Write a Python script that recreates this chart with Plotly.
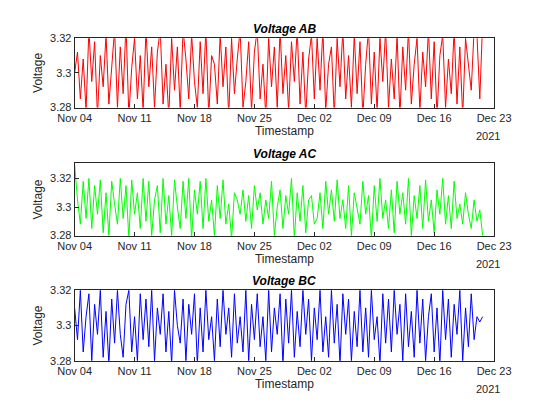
import pandas as pd
import plotly.graph_objects as go
from plotly.subplots import make_subplots

# Data: deviation from 3.300 V in mV, one reading every 8 hours.
ab_mv = [0, 12, -15, 8, -22, 25, -5, 18, -25, 10, -8, 22, -18, 5, 25, -20, 15, -12, 28, -25, 3, 20, -15, 10, -22, 25, -8, 15, -20, 12,
         25, -18, 5, -25, 20, -10, 15, -22, 25, 8, -15, 22, -5, -20, 18, -12, 25, -25, 10, 5, -18, 22, -8, 15, -25, 20, -12, 8, 25, -20,
         -5, 18, -22, 12, 25, -15, 5, -25, 20, -8, 15, -20, 25, -12, 10, -22, 18, -5, 25, -18, 12, -25, 8, 22, -15, 20, -10, 25, -22, 5,
         15, -25, 20, -8, 25, -15, 10, -20, 22, -12, 18, -25, 5, 25, -18, 12, -22, 20, -5, 25, -20, 8, -15, 22, -25, 15, -10, 25, -18, 5,
         20, -22, 12, -8, 25, -15, 18, -25, 10, 22, -20, 8, -12, 25, -18, 15, -25, 20, 5, -10, 25, 22, -15, 30]
ac_mv = [30, 5, -12, 18, -8, 20, -15, 15, -5, 19, -18, 10, -20, 18, 2, -12, 20, -8, 15, -22, 19, -5, 10, -15, 20, -10, 18, -20, 5, 15,
         -18, 20, -12, 8, -20, 19, 0, -15, 18, -8, 20, -22, 12, -5, 18, -15, 20, -10, 5, -20, 15, -8, 19, -12, 2, -22, 10, 5, -5, 12,
         -10, 8, -15, 15, -2, 10, -12, 5, -8, 18, -20, 0, 12, -15, 8, -5, 20, -22, 10, -10, 15, -18, 5, 8, -12, -8, 10, -15, 18, -5,
         12, -10, 19, -8, 5, -15, 15, -20, 10, 0, -12, 18, -5, 8, -22, 15, -10, 20, -8, 5, -15, 12, -18, 18, -5, 10, -12, 20, -20, 8,
         -8, 15, -15, 19, -10, 5, -18, 12, -5, 20, -12, 8, -15, 18, -8, 2, -12, 10, -5, -15, 5, -10, -2, -20]
bc_mv = [10, -8, 20, -15, 5, 18, -20, 12, -5, 20, -18, 8, -22, 15, -10, 20, -5, -18, 12, 20, -15, 5, -20, 18, -8, 15, -12, 20, -20, 10,
         -5, 18, -15, 8, -22, 20, 0, -10, 15, -20, 12, -5, 18, -22, 10, -15, 20, -8, 5, -20, 15, -12, 20, -5, 10, -18, 18, -10, 5, -15,
         20, -20, 12, -8, 18, -12, 5, -20, 20, -15, 10, -5, 18, -22, 15, -10, 20, -18, 8, -12, 20, -5, 15, -20, 10, -8, 20, -15, 5, -18,
         20, -10, 12, -22, 18, -5, 15, -20, 8, -12, 20, -15, 10, -18, 20, -8, 5, -22, 18, -10, 15, -15, 20, -5, 12, -20, 18, -12, 8, -18,
         20, -10, 15, -20, 5, 18, -15, 10, -22, 20, -8, 15, -18, 12, -5, 20, -20, 10, -12, 18, -8, 5, 2, 5]

timestamps = pd.date_range("2021-11-04", periods=len(ab_mv), freq="8h")
series = [("Voltage AB", ab_mv, "#ff0000", [3.28, 3.32]),
          ("Voltage AC", ac_mv, "#00ff00", [3.28, 3.3305]),
          ("Voltage BC", bc_mv, "#0000ff", [3.28, 3.32])]

# Axes positions (paper coords), MATLAB-like layout.
x_domain = [0.119, 0.868]
y_domains = [[0.763, 0.928], [0.458, 0.630], [0.160, 0.328]]
ink = "#262626"
font = dict(family="Liberation Sans, Arial, sans-serif", size=11, color=ink)

fig = make_subplots(rows=3, cols=1)
for i, (name, mv, color, yr) in enumerate(series):
    r = i + 1
    fig.add_trace(go.Scatter(x=timestamps, y=[3.3 + v / 1000 for v in mv], mode="lines",
                             line=dict(color=color, width=1), showlegend=False), row=r, col=1)
    fig.update_xaxes(domain=x_domain, range=["2021-11-04", "2021-12-23"],
                     dtick=7 * 86400000, tick0="2021-11-04", tickformat="%b %d",
                     ticks="inside", ticklen=4, tickcolor=ink, showgrid=False,
                     showline=True, linecolor=ink, linewidth=1, mirror=True, automargin=False,
                     title=dict(text="Timestamp", standoff=2, font=dict(size=12)),
                     row=r, col=1)
    fig.update_yaxes(domain=y_domains[i], range=yr, tickvals=[3.28, 3.3, 3.32],
                     ticktext=["3.28", "3.3", "3.32"], automargin=False,
                     ticks="inside", ticklen=4, tickcolor=ink, showgrid=False,
                     showline=True, linecolor=ink, linewidth=1, mirror=True, zeroline=False,
                     title=dict(text="Voltage", standoff=4, font=dict(size=12)),
                     row=r, col=1)
    fig.add_annotation(text=f"<b><i>{name}</i></b>", x=sum(x_domain) / 2, y=y_domains[i][1],
                       xref="paper", yref="paper", yanchor="bottom", showarrow=False,
                       font=dict(size=12, color="#000000"))
    fig.add_annotation(text="2021", x=x_domain[1] - 0.01, y=y_domains[i][0] - 0.048,
                       xref="paper", yref="paper", xanchor="center", yanchor="top",
                       showarrow=False, font=font)

fig.update_layout(width=560, height=420, margin=dict(l=0, r=0, t=0, b=0),
                  paper_bgcolor="white", plot_bgcolor="white", font=font)
fig.write_html("out.html")
